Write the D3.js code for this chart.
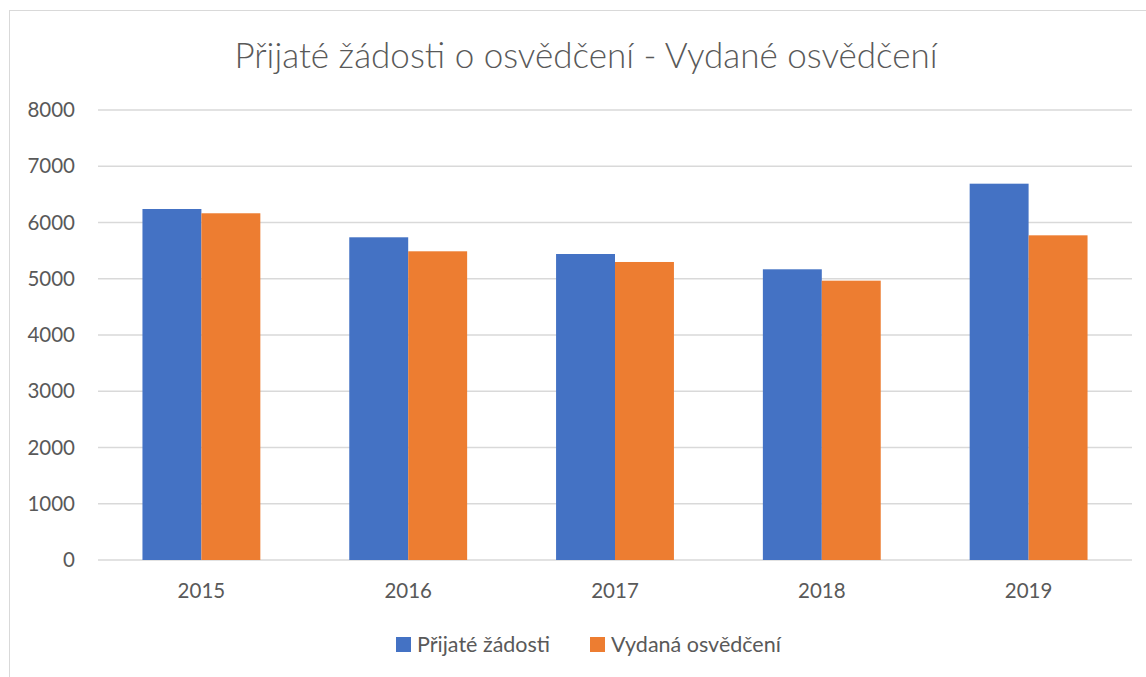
<!DOCTYPE html>
<html>
<head>
<meta charset="utf-8">
<script src="https://cdn.jsdelivr.net/npm/d3@7"></script>
<style>
  body { margin: 0; background: #fff; }
  text { font-family: Lato, "Open Sans", sans-serif; fill: #595959; }
</style>
</head>
<body>
<div id="chart"></div>
<script>
// data
const years = ["2015", "2016", "2017", "2018", "2019"];
const prijate = [6240, 5737, 5440, 5168, 6690];
const vydane = [6164, 5488, 5298, 4966, 5772];
const seriesNames = ["Přijaté žádosti", "Vydaná osvědčení"];
const colors = ["#4472C4", "#ED7D31"];
const yTicks = [0, 1000, 2000, 3000, 4000, 5000, 6000, 7000, 8000];

const width = 1146, height = 677;
const margin = { top: 110, right: 14, bottom: 117, left: 98 };

const svg = d3.select("#chart").append("svg")
  .attr("width", width)
  .attr("height", height);

// chart border
svg.append("rect")
  .attr("x", 9.5).attr("y", 10.5)
  .attr("width", width + 10).attr("height", height + 10)
  .attr("fill", "none")
  .attr("stroke", "#d9d9d9");

const x0 = d3.scaleBand()
  .domain(years)
  .range([margin.left, width - margin.right])
  .paddingInner(0.43)
  .paddingOuter(0.215);

const x1 = d3.scaleBand()
  .domain([0, 1])
  .range([0, x0.bandwidth()]);

const y = d3.scaleLinear()
  .domain([0, 8000])
  .range([height - margin.bottom, margin.top]);

// gridlines
svg.selectAll("line.grid")
  .data(yTicks)
  .join("line")
  .attr("class", "grid")
  .attr("x1", margin.left)
  .attr("x2", width - margin.right)
  .attr("y1", d => y(d))
  .attr("y2", d => y(d))
  .attr("stroke", "#d9d9d9")
  .attr("stroke-width", 1.3);

// y labels
svg.selectAll("text.ytick")
  .data(yTicks)
  .join("text")
  .attr("class", "ytick")
  .attr("x", 75)
  .attr("y", d => y(d))
  .attr("dy", "0.35em")
  .attr("text-anchor", "end")
  .style("font-size", "20.5px")
  .text(d => d);

// bars
const groups = svg.selectAll("g.year")
  .data(years)
  .join("g")
  .attr("class", "year")
  .attr("transform", d => `translate(${x0(d)},0)`);

groups.selectAll("rect")
  .data((d, i) => [prijate[i], vydane[i]])
  .join("rect")
  .attr("x", (d, j) => x1(j))
  .attr("width", x1.bandwidth())
  .attr("y", d => y(d))
  .attr("height", d => y(0) - y(d))
  .attr("fill", (d, j) => colors[j]);

// x labels
svg.selectAll("text.xtick")
  .data(years)
  .join("text")
  .attr("class", "xtick")
  .attr("x", d => x0(d) + x0.bandwidth() / 2)
  .attr("y", 591)
  .attr("dy", "0.35em")
  .attr("text-anchor", "middle")
  .style("font-size", "20.5px")
  .text(d => d);

// title
svg.append("text")
  .attr("x", 586)
  .attr("y", 56)
  .attr("dy", "0.35em")
  .attr("text-anchor", "middle")
  .style("font-size", "35px")
  .style("font-weight", 300)
  .text("Přijaté žádosti o osvědčení - Vydané osvědčení");

// legend
const legendX = [396, 590];
const legend = svg.selectAll("g.legend")
  .data(seriesNames)
  .join("g")
  .attr("class", "legend")
  .attr("transform", (d, i) => `translate(${legendX[i]},644)`);

legend.append("rect")
  .attr("x", 0).attr("y", -7)
  .attr("width", 15).attr("height", 15)
  .attr("fill", (d, i) => colors[i]);

legend.append("text")
  .attr("x", 21)
  .attr("dy", "0.35em")
  .style("font-size", "21.5px")
  .text(d => d);
</script>
</body>
</html>
